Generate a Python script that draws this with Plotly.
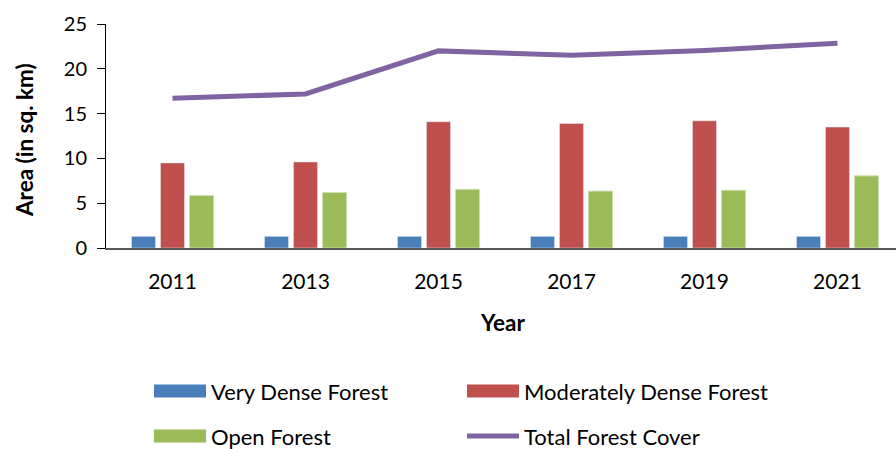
import plotly.graph_objects as go

years = ["2011", "2013", "2015", "2017", "2019", "2021"]
very_dense = [1.3, 1.3, 1.3, 1.3, 1.3, 1.3]
moderately_dense = [9.5, 9.6, 14.1, 13.9, 14.2, 13.5]
open_forest = [5.85, 6.2, 6.55, 6.35, 6.45, 8.05]
total_cover = [16.7, 17.2, 22.0, 21.5, 22.05, 22.85]
series_names = ["Very Dense Forest", "Moderately Dense Forest", "Open Forest", "Total Forest Cover"]
y_ticks = [0, 5, 10, 15, 20, 25]

colors = ["#4A7EBB", "#C0504D", "#9BBB59", "#8064A2"]
FONT = "Lato, 'Open Sans', sans-serif"

W, H = 896, 449
ML, MR, MT, MB = 106, 0, 24, 201
PW, PH = W - ML - MR, H - MT - MB

fig = go.Figure()
fig.add_trace(go.Bar(x=years, y=very_dense, name=series_names[0], marker_color=colors[0]))
fig.add_trace(go.Bar(x=years, y=moderately_dense, name=series_names[1], marker_color=colors[1]))
fig.add_trace(go.Bar(x=years, y=open_forest, name=series_names[2], marker_color=colors[2],
                     marker_line=dict(color="#cddfae", width=1)))
fig.add_trace(go.Scatter(x=years, y=total_cover, name=series_names[3], mode="lines",
                         line=dict(color=colors[3], width=5)))

fig.update_layout(
    width=W, height=H,
    margin=dict(l=ML, r=MR, t=MT, b=MB, pad=0),
    paper_bgcolor="white", plot_bgcolor="white",
    barmode="group", bargap=0.346, bargroupgap=0.17,
    showlegend=False,
    font=dict(family=FONT, size=20, color="#000000"),
    xaxis=dict(type="category", range=[-0.5, 5.44], showgrid=False, zeroline=False,
               showline=True, linecolor="#595959", linewidth=1.5, ticks="",
               tickfont=dict(family=FONT, size=21), ticklabelstandoff=14),
    yaxis=dict(range=[0, 25], tickvals=y_ticks, showgrid=False, zeroline=False,
               showline=True, linecolor="#000000", linewidth=1, ticks="outside",
               ticklen=8, tickcolor="#000000", tickwidth=1,
               tickfont=dict(family=FONT, size=20), ticklabelstandoff=6),
)

# axis titles
fig.add_annotation(text="<b>Area (in sq. km)</b>", xref="paper", yref="paper",
                   x=(24 - ML) / PW, y=(H - MB - 140) / PH, textangle=-90, showarrow=False,
                   font=dict(family=FONT, size=22.5), xanchor="center", yanchor="middle")
fig.add_annotation(text="<b>Year</b>", xref="paper", yref="paper",
                   x=(502 - ML) / PW, y=(H - MB - 322) / PH, showarrow=False,
                   font=dict(family=FONT, size=22.5), xanchor="center", yanchor="middle")

# manual legend (2 x 2)
leg_pos = [(154, 391), (467, 391), (154, 436), (467, 436)]
for i, (name, (lx, ly)) in enumerate(zip(series_names, leg_pos)):
    x0 = (lx - ML) / PW
    x1 = (lx + 52 - ML) / PW
    hh = 6.5 if i < 3 else 2.5
    y0 = (H - MB - (ly + hh)) / PH
    y1 = (H - MB - (ly - hh)) / PH
    fig.add_shape(type="rect", xref="paper", yref="paper", x0=x0, x1=x1, y0=y0, y1=y1,
                  fillcolor=colors[i], line=dict(width=0))
    fig.add_annotation(text=name, xref="paper", yref="paper",
                       x=(lx + 55 - ML) / PW, y=(H - MB - ly) / PH, showarrow=False,
                       xanchor="left", yanchor="middle",
                       font=dict(family=FONT, size=22, color="#000000"))

fig.write_html("out.html",
               config={"displayModeBar": False},
               post_script="document.body.style.margin='0';document.body.style.overflow='hidden';")
